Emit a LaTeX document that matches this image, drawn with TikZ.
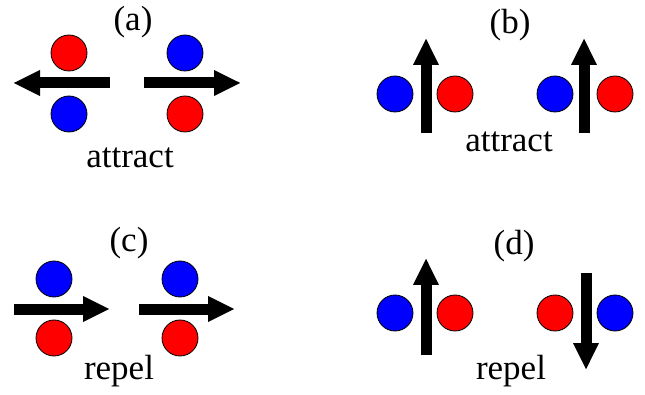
\documentclass[tikz,border=0pt]{standalone}
\usepackage{fontspec}
\setmainfont{Liberation Serif}
\usetikzlibrary{arrows.meta}
\definecolor{pred}{RGB}{255,0,0}
\definecolor{pblue}{RGB}{0,0,255}
\begin{document}
\begin{tikzpicture}[
        x=1pt, y=-1pt,
        ball/.style={circle, draw=black, line width=0.8pt, minimum size=36pt, inner sep=0pt},
        red/.style={ball, fill=pred},
        blue/.style={ball, fill=pblue},
        arrow/.style={line width=11pt, -{Triangle[length=27pt, width=24pt]}},
        lbl/.style={anchor=base, inner sep=0pt, font=\rmfamily\fontsize{35}{42}\selectfont}
    ]
        \useasboundingbox (0,0) rectangle (645,395);
        % (a)
        \node[lbl] (la) at (133,31) {(a)};
        \node[red] (a1) at (69,53) {};
        \node[blue] (a2) at (69,114) {};
        \node[blue] (a3) at (185,53) {};
        \node[red] (a4) at (185,114) {};
        \coordinate (a5) at (110,83); \coordinate (a6) at (13,83);
        \coordinate (a7) at (144,83); \coordinate (a8) at (241,83);
        \draw[arrow] (a5) -- (a6);
        \draw[arrow] (a7) -- (a8);
        \node[lbl] (ta) at (130,168) {attract};
        % (b)
        \node[lbl] (lb) at (510,34) {(b)};
        \node[blue] (b1) at (395,94) {};
        \node[red] (b2) at (455,94) {};
        \node[blue] (b3) at (555,94) {};
        \node[red] (b4) at (615,94) {};
        \coordinate (b5) at (426,133); \coordinate (b6) at (426,38);
        \coordinate (b7) at (584,133); \coordinate (b8) at (584,38);
        \draw[arrow] (b5) -- (b6);
        \draw[arrow] (b7) -- (b8);
        \node[lbl] (tb) at (509,152) {attract};
        % (c)
        \node[lbl] (lc) at (129,252) {(c)};
        \node[blue] (c1) at (54,279) {};
        \node[red] (c2) at (54,338) {};
        \node[blue] (c3) at (180,279) {};
        \node[red] (c4) at (180,338) {};
        \coordinate (c5) at (14,309); \coordinate (c6) at (110,309);
        \coordinate (c7) at (139,309); \coordinate (c8) at (235,309);
        \draw[arrow] (c5) -- (c6);
        \draw[arrow] (c7) -- (c8);
        \node[lbl] (tc) at (119,379) {repel};
        % (d)
        \node[lbl] (ld) at (514,255) {(d)};
        \node[blue] (d1) at (395,313) {};
        \node[red] (d2) at (455,313) {};
        \node[red] (d3) at (555,313) {};
        \node[blue] (d4) at (615,313) {};
        \coordinate (d5) at (426,355); \coordinate (d6) at (426,258);
        \coordinate (d7) at (586,273); \coordinate (d8) at (586,370);
        \draw[arrow] (d5) -- (d6);
        \draw[arrow] (d7) -- (d8);
        \node[lbl] (td) at (511,379) {repel};
    \end{tikzpicture}
\end{document}
